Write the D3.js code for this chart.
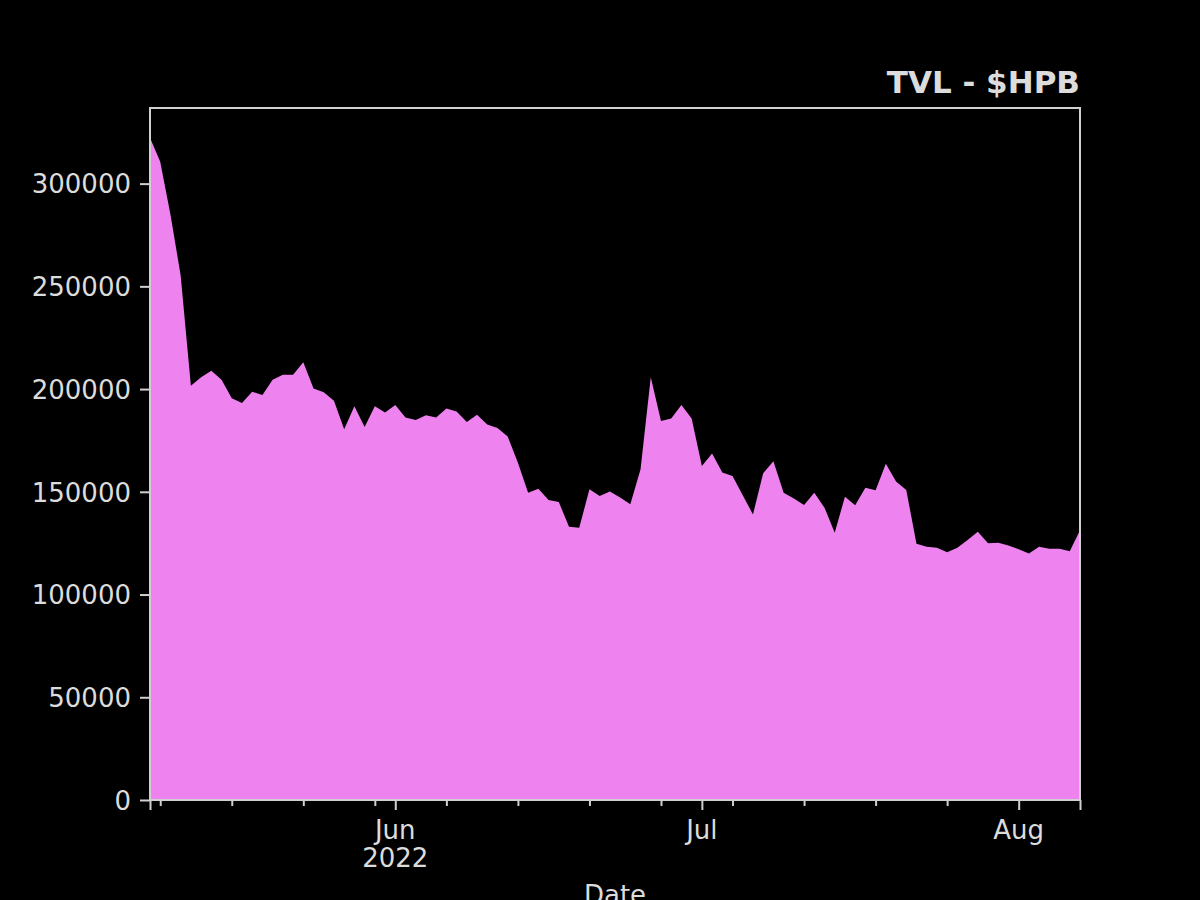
<!DOCTYPE html>
<html>
<head>
<meta charset="utf-8">
<script src="https://cdn.jsdelivr.net/npm/d3@7"></script>
<style>
  body { margin: 0; background: #000; }
  svg text { font-family: "DejaVu Sans", sans-serif; fill: #dcdcdc; }
</style>
</head>
<body>
<script>
// daily TVL values, 2022-05-08 .. 2022-08-07
var startDate = new Date(2022, 4, 8),
    endDate = new Date(2022, 7, 7);
var tvl = [
  322300, 310600, 285000, 255300, 201600, 205700, 208900, 204500, 195500, 193200,
  198700, 197100, 204500, 207000, 207000, 213000, 200300, 198400, 194300, 180500,
  191600, 181600, 191600, 188600, 192300, 186200, 185000, 187300, 186200, 190600,
  189100, 184000, 187500, 182800, 181100, 176900, 164200, 149600, 151500, 146000,
  145000, 133000, 132500, 151200, 148000, 150100, 147200, 143900, 161000, 205700,
  184500, 185700, 192200, 185700, 162600, 168600, 159400, 157700, 148300, 139000,
  159000, 164900, 149600, 146700, 143600, 149600, 142300, 130100, 147600, 143400,
  152000, 150700, 163700, 155000, 150900, 124700, 123200, 122800, 120600, 122800,
  126500, 130600, 125000, 125200, 123900, 122000, 120000, 123200, 122300, 122300,
  121100, 131300
];
var yTicks = [0, 50000, 100000, 150000, 200000, 250000, 300000];
var monthLabels = [
  { date: new Date(2022, 5, 1), lines: ["Jun", "2022"] },
  { date: new Date(2022, 6, 1), lines: ["Jul"] },
  { date: new Date(2022, 7, 1), lines: ["Aug"] }
];
var title = "TVL - $HPB",
    xLabel = "Date";

var dates = d3.timeDay.range(startDate, d3.timeDay.offset(endDate, 1));
var data = dates.map(function(d, i) { return { date: d, value: tvl[i] }; });

var W = 1200, H = 900;
var margin = {top: 108, right: 120, bottom: 100, left: 150},
    width = W - margin.left - margin.right,
    height = H - margin.top - margin.bottom;

var svg = d3.select("body").append("svg")
    .attr("width", W)
    .attr("height", H)
    .style("background", "#000");

var g = svg.append("g")
    .attr("transform", "translate(" + margin.left + "," + margin.top + ")");

var x = d3.scaleTime()
    .domain([startDate, endDate])
    .range([0, width]);

var y = d3.scaleLinear()
    .domain([0, d3.max(tvl) * 1.045])
    .range([height, 0]);

// area
var area = d3.area()
    .x(function(d) { return x(d.date); })
    .y0(y(0))
    .y1(function(d) { return y(d.value); });

g.append("path")
    .datum(data)
    .attr("fill", "#ee82ee")
    .attr("d", area);

var axisColor = "#d0d0d0";
var fs = 26;

// y axis
var yAxis = g.append("g")
    .call(d3.axisLeft(y)
        .tickValues(yTicks)
        .tickFormat(d3.format("d"))
        .tickSize(10)
        .tickPadding(9));
yAxis.select(".domain").remove();
yAxis.selectAll(".tick line").attr("stroke", axisColor).attr("stroke-width", 2);
yAxis.selectAll(".tick text").style("font-size", fs + "px").attr("dy", "0.36em");

// x axis: minor weekly ticks (Mondays)
var minor = d3.timeMonday.range(startDate, d3.timeDay.offset(endDate, 1))
    .filter(function(d) { return d.getDate() !== 1; });
var xMinor = g.append("g")
    .attr("transform", "translate(0," + height + ")")
    .call(d3.axisBottom(x).tickValues(minor).tickSize(6).tickFormat(""));
xMinor.select(".domain").remove();
xMinor.selectAll(".tick line").attr("stroke", axisColor).attr("stroke-width", 2);

// major ticks at month starts and the ends
var majors = [startDate, endDate].concat(monthLabels.map(function(m) { return m.date; }));
var xMajor = g.append("g")
    .attr("transform", "translate(0," + height + ")")
    .call(d3.axisBottom(x).tickValues(majors).tickSize(10).tickFormat(""));
xMajor.select(".domain").remove();
xMajor.selectAll(".tick line").attr("stroke", axisColor).attr("stroke-width", 2);

var ml = g.append("g").attr("transform", "translate(0," + height + ")");
monthLabels.forEach(function(m) {
  var t = ml.append("text")
      .attr("x", x(m.date))
      .attr("y", 39)
      .attr("text-anchor", "middle")
      .style("font-size", fs + "px");
  m.lines.forEach(function(s, i) {
    t.append("tspan")
        .attr("x", x(m.date))
        .attr("dy", i === 0 ? 0 : 28)
        .text(s);
  });
});

// frame
g.append("rect")
    .attr("width", width)
    .attr("height", height)
    .attr("fill", "none")
    .attr("stroke", axisColor)
    .attr("stroke-width", 2);

// x label
g.append("text")
    .attr("x", width / 2)
    .attr("y", height + 104)
    .attr("text-anchor", "middle")
    .style("font-size", fs + "px")
    .text(xLabel);

// title
g.append("text")
    .attr("x", width)
    .attr("y", -15)
    .attr("text-anchor", "end")
    .style("font-size", "31px")
    .style("font-weight", "bold")
    .text(title);
</script>
</body>
</html>
